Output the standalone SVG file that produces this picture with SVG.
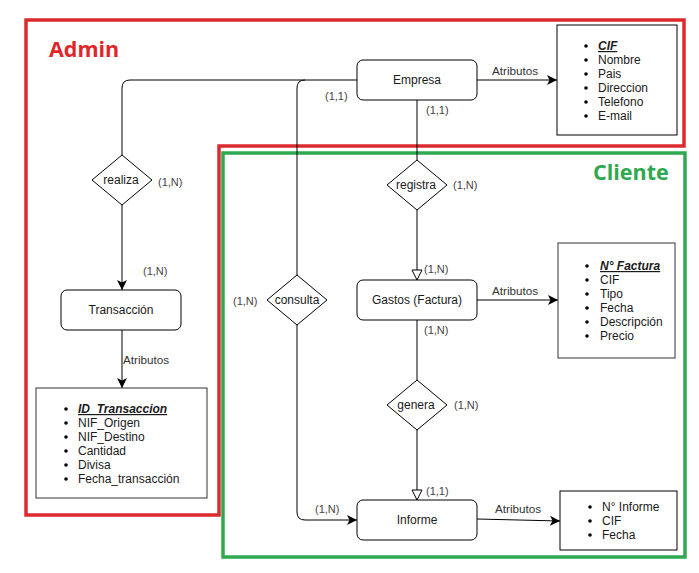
<svg xmlns="http://www.w3.org/2000/svg" width="699" height="573" viewBox="0 0 699 573">
<defs>
<style>
text{font-family:"Liberation Sans",Arial,sans-serif;fill:#1a1a1a}
.n{font-size:12px;text-anchor:middle}
.c{font-size:11px;fill:#444}
.t{font-size:11.7px;fill:#333}
.a{font-size:12px}
.k{font-weight:bold;font-style:italic;text-decoration:underline}
.ent{fill:#fff;stroke:#000;stroke-width:1}
.box{fill:#fff;stroke:#000;stroke-width:1}
.rel{fill:#fff;stroke:#000;stroke-width:1}
.ln{fill:none;stroke:#000;stroke-width:1}
.b{fill:#000}
.zone{font-family:"Open Sans","Liberation Sans",sans-serif;font-weight:bold;font-size:21.5px}
</style>
<marker id="arr" viewBox="0 0 10 10" refX="10" refY="5" markerWidth="10" markerHeight="10" markerUnits="userSpaceOnUse" orient="auto">
<path d="M0,0 L10,5 L0,10 L2.5,5 Z" fill="#000"/>
</marker>
<marker id="tri" viewBox="0 0 12 12" refX="11" refY="6" markerWidth="12" markerHeight="12" markerUnits="userSpaceOnUse" orient="auto">
<path d="M1,1 L11,6 L1,11 Z" fill="#fff" stroke="#000" stroke-width="1"/>
</marker>
</defs>
<rect width="699" height="573" fill="#fff"/>

<g id="zones">
<path d="M26,20 H684 V146 H219 V515 H26 Z" fill="none" stroke="#dc2a2f" stroke-width="3.5"/>
<rect x="223" y="153" width="462" height="404" fill="none" stroke="#2fa84f" stroke-width="3.5"/>
<text class="zone" x="49" y="57" style="fill:#e0262b">Admin</text>
<text class="zone" x="593" y="180" style="fill:#2fa84f">Cliente</text>
</g>

<g id="connectors">
<path class="ln" d="M357,80 H130 Q122,80 122,88 V155"/>
<path class="ln" d="M305,80 Q297,80 297,88 V275"/>
<path class="ln" d="M122,205 V290" marker-end="url(#arr)"/>
<path class="ln" d="M122,330 V388" marker-end="url(#arr)"/>
<path class="ln" d="M477,80 H557" marker-end="url(#arr)"/>
<path class="ln" d="M417,100 V160"/>
<path class="ln" d="M417,210 V280" marker-end="url(#tri)"/>
<path class="ln" d="M477,300 H558" marker-end="url(#arr)"/>
<path class="ln" d="M417,320 V380"/>
<path class="ln" d="M417,430 V500" marker-end="url(#tri)"/>
<path class="ln" d="M297,325 V512 Q297,520 305,520 H357" marker-end="url(#arr)"/>
<path class="ln" d="M477,519 L560,521" marker-end="url(#arr)"/>
<text class="t" x="492" y="75">Atributos</text>
<text class="t" x="492" y="295">Atributos</text>
<text class="t" x="495" y="513">Atributos</text>
<text class="t" x="123" y="364">Atributos</text>
<text class="c" x="325" y="100">(1,1)</text>
<text class="c" x="426" y="114">(1,1)</text>
<text class="c" x="158" y="186">(1,N)</text>
<text class="c" x="143" y="275">(1,N)</text>
<text class="c" x="453" y="189">(1,N)</text>
<text class="c" x="424" y="273">(1,N)</text>
<text class="c" x="424" y="334">(1,N)</text>
<text class="c" x="454" y="409">(1,N)</text>
<text class="c" x="426" y="495">(1,1)</text>
<text class="c" x="233" y="305">(1,N)</text>
<text class="c" x="315" y="513">(1,N)</text>
</g>

<g id="empresa">
<rect class="ent" x="357" y="60" width="120" height="40" rx="6"/>
<text class="n" x="417" y="84">Empresa</text>
</g>

<g id="empresa-atributos">
<rect class="box" x="557" y="25" width="120" height="110"/>
<circle class="b" cx="586" cy="46" r="1.8"/><text class="a k" x="598" y="50">CIF</text>
<circle class="b" cx="586" cy="60" r="1.8"/><text class="a" x="598" y="64">Nombre</text>
<circle class="b" cx="586" cy="74" r="1.8"/><text class="a" x="598" y="78">Pais</text>
<circle class="b" cx="586" cy="88" r="1.8"/><text class="a" x="598" y="92">Direccion</text>
<circle class="b" cx="586" cy="102" r="1.8"/><text class="a" x="598" y="106">Telefono</text>
<circle class="b" cx="586" cy="116" r="1.8"/><text class="a" x="598" y="120">E-mail</text>
</g>

<g id="realiza">
<polygon class="rel" points="122,155 152,180 122,205 92,180"/>
<text class="n" x="121" y="184">realiza</text>
</g>

<g id="transaccion">
<rect class="ent" x="61" y="290" width="120" height="40" rx="6"/>
<text class="n" x="121" y="314">Transacción</text>
</g>

<g id="transaccion-atributos">
<rect class="box" x="36" y="388" width="171" height="110" style="stroke:#333"/>
<circle class="b" cx="66" cy="409" r="1.8"/><text class="a k" x="78" y="413">ID_Transaccion</text>
<circle class="b" cx="66" cy="423" r="1.8"/><text class="a" x="78" y="427">NIF_Origen</text>
<circle class="b" cx="66" cy="437" r="1.8"/><text class="a" x="78" y="441">NIF_Destino</text>
<circle class="b" cx="66" cy="451" r="1.8"/><text class="a" x="78" y="455">Cantidad</text>
<circle class="b" cx="66" cy="465" r="1.8"/><text class="a" x="78" y="469">Divisa</text>
<circle class="b" cx="66" cy="479" r="1.8"/><text class="a" x="78" y="483">Fecha_transacción</text>
</g>

<g id="registra">
<polygon class="rel" points="417,160 447,185 417,210 387,185"/>
<text class="n" x="416" y="189">registra</text>
</g>

<g id="gastos">
<rect class="ent" x="357" y="280" width="120" height="40" rx="6"/>
<text class="n" x="417" y="304">Gastos (Factura)</text>
</g>

<g id="gastos-atributos">
<rect class="box" x="558" y="243" width="117" height="115" style="stroke:#333"/>
<circle class="b" cx="587" cy="266" r="1.8"/><text class="a k" x="600" y="270">N° Factura</text>
<circle class="b" cx="587" cy="280" r="1.8"/><text class="a" x="600" y="284">CIF</text>
<circle class="b" cx="587" cy="294" r="1.8"/><text class="a" x="600" y="298">Tipo</text>
<circle class="b" cx="587" cy="308" r="1.8"/><text class="a" x="600" y="312">Fecha</text>
<circle class="b" cx="587" cy="322" r="1.8"/><text class="a" x="600" y="326">Descripción</text>
<circle class="b" cx="587" cy="336" r="1.8"/><text class="a" x="600" y="340">Precio</text>
</g>

<g id="genera">
<polygon class="rel" points="417,380 447,405 417,430 387,405"/>
<text class="n" x="416" y="409">genera</text>
</g>

<g id="consulta">
<polygon class="rel" points="297,275 327,300 297,325 267,300"/>
<text class="n" x="297" y="304">consulta</text>
</g>

<g id="informe">
<rect class="ent" x="357" y="500" width="120" height="40" rx="6"/>
<text class="n" x="417" y="524">Informe</text>
</g>

<g id="informe-atributos">
<rect class="box" x="560" y="491" width="117" height="59"/>
<circle class="b" cx="590" cy="507" r="1.8"/><text class="a" x="602" y="511">N° Informe</text>
<circle class="b" cx="590" cy="521" r="1.8"/><text class="a" x="602" y="525">CIF</text>
<circle class="b" cx="590" cy="535" r="1.8"/><text class="a" x="602" y="539">Fecha</text>
</g>
</svg>
